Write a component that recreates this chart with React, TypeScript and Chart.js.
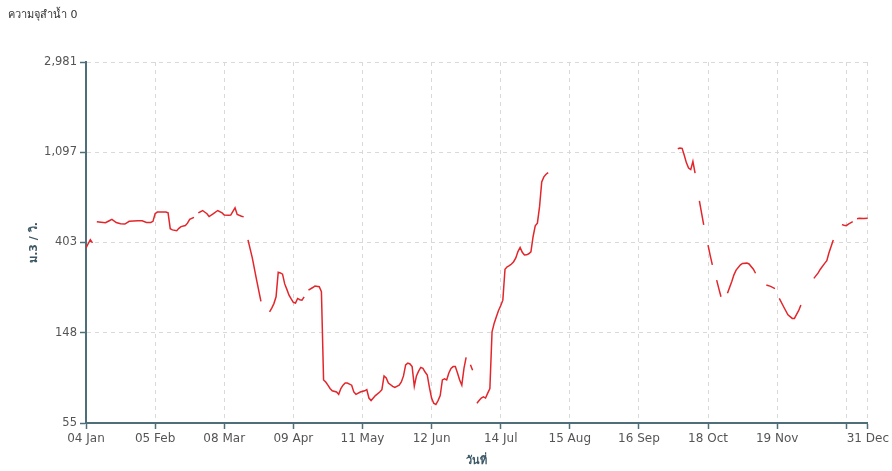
import React, { useEffect, useRef } from 'react';
import { Chart, registerables } from 'chart.js';

Chart.register(...registerables);

const chartTitle = 'ความจุสำน้ำ 0';
const yAxisTitle = 'ม.3 / วิ.';
const xAxisTitle = 'วันที่';

// day index 0 = 04 Jan (leap year), 362 = 31 Dec
const xTickDays = [0, 32, 64, 96, 128, 160, 192, 224, 256, 288, 320, 352, 362];
const xTickLabels = ['04 Jan', '05 Feb', '08 Mar', '09 Apr', '11 May', '12 Jun', '14 Jul', '15 Aug', '16 Sep', '18 Oct', '19 Nov', '', '31 Dec'];
const yTickValues = [54.598, 148.413, 403.429, 1096.633, 2980.958];

const days = [
  0, 1, 2, 3, 4,
  5, 7, 9, 11, 12, 14, 16, 18, 20, 22, 24, 26, 28, 30, 31, 32, 33, 35, 37, 38, 39, 40, 42, 43, 44, 46, 47, 48, 50, 51,
  52, 54, 56, 57, 59, 61, 63, 64, 66, 67, 69, 70, 72, 73, 74,
  75, 77, 79, 81, 82,
  85, 86, 87, 88, 89, 90, 91, 92, 93, 94, 95, 96, 97, 98, 99, 100, 101, 102,
  103, 105, 106, 108, 109, 110, 111, 112, 113, 114, 116, 117, 118, 119, 120, 121, 123, 124, 125, 127, 129, 130, 131, 132, 134, 136, 137, 138, 139, 140, 142, 143, 145, 146, 147, 148, 149, 150, 151, 152, 153, 154, 155, 156, 157, 158, 159, 160, 161, 162, 163, 164, 165, 166, 167, 168, 169, 170, 171, 172, 173, 174, 175, 176, 177,
  178, 179, 180,
  181, 182, 183, 184, 185, 186, 187, 188, 189, 190, 191, 192, 193, 194, 195, 196, 197, 198, 199, 200, 201, 202, 203, 204, 205, 206, 207, 208, 209, 210, 211, 212, 213, 214, 215,
  274, 275, 276, 277, 278, 279, 280, 281, 282, 283,
  284, 285, 286, 287,
  288, 289, 290, 291,
  292, 293, 294, 295,
  297, 299, 300, 301, 303, 304, 306, 307, 309, 310, 311,
  315, 317, 319, 320,
  321, 323, 325, 327, 328, 329, 330, 331, 332,
  337, 339, 340, 342, 343, 344, 346, 347,
  350, 351, 352, 353, 355, 356,
  357, 358, 360, 362,
];

const flow: (number | null)[] = [
  380, 398, 416, 402, null,
  508, 505, 502, 515, 521, 503, 497, 495, 510, 512, 513, 513, 504, 504, 510, 555, 565, 566, 565, 560, 470, 464, 460, 472, 481, 487, 500, 521, 533, null,
  560, 575, 555, 538, 555, 575, 560, 547, 545, 547, 592, 550, 540, 536, null,
  415, 340, 266, 210, null,
  187, 195, 205, 221, 290, 288, 284, 255, 240, 225, 216, 208, 206, 217, 214, 213, 221, null,
  238, 245, 249, 247, 234, 88, 86, 83, 80, 78, 77, 75, 80, 83, 85, 85, 83, 77, 75, 77, 78, 79, 72, 70, 74, 77, 79, 92, 90, 85, 82, 81, 83, 86, 92, 104, 106, 105, 102, 82, 92, 97, 101, 100, 96, 93, 81, 72, 68, 67, 70, 74, 88, 89, 88, 95, 100, 102, 102, 95, 88, 83, 100, 113, null,
  104, 98, null,
  68, 70, 72, 73, 72, 76, 80, 150, 165, 177, 190, 200, 213, 300, 308, 312, 318, 326, 340, 365, 382, 362, 351, 352, 356, 364, 430, 485, 500, 600, 790, 835, 860, 875, null,
  1140, 1150, 1145, 1060, 975, 920, 905, 990, 870, null,
  640, 560, 490, null,
  392, 350, 315, null,
  266, 242, 221, null,
  230, 262, 282, 297, 315, 320, 321, 318, 300, 287, null,
  252, 248, 242, null,
  217, 198, 181, 174, 174, 182, 190, 202, null,
  271, 288, 300, 320, 330, 360, 415, null,
  492, 488, 486, 495, 508, null,
  525, 528, 527, 528,
];

const AXIS = '#4e6e7a';
const GRID = '#d9d9d9';
const FONT = "'DejaVu Sans', Tahoma, Verdana, sans-serif";

const titlePlugin = {
  id: 'topLeftTitle',
  afterDraw(chart: any) {
    const ctx = chart.ctx;
    ctx.save();
    ctx.font = `11px ${FONT}`;
    ctx.fillStyle = '#333';
    ctx.textBaseline = 'middle';
    ctx.textAlign = 'left';
    ctx.fillText(chartTitle, 8, 15);
    ctx.restore();
  },
};

export default function App() {
  const ref = useRef<HTMLCanvasElement | null>(null);

  useEffect(() => {
    if (!ref.current) return;
    const points = days.map((d, i) => ({ x: d, y: flow[i] }));
    const chart = new Chart(ref.current, {
      type: 'line',
      data: {
        datasets: [
          {
            label: chartTitle,
            data: points as any,
            borderColor: '#e3262b',
            backgroundColor: '#e3262b',
            borderWidth: 1.5,
            pointRadius: 0,
            pointHoverRadius: 0,
            tension: 0,
            spanGaps: false,
          },
        ],
      },
      options: {
        animation: false,
        responsive: false,
        maintainAspectRatio: false,
        layout: { padding: { left: 8, top: 62, right: 24, bottom: 0 } },
        plugins: {
          legend: { display: false },
          tooltip: { enabled: false },
          title: { display: false },
        },
        scales: {
          x: {
            type: 'linear',
            min: 0,
            max: 362,
            afterBuildTicks: (scale: any) => {
              scale.ticks = xTickDays.map((v) => ({ value: v }));
            },
            afterFit: (scale: any) => {
              scale.height = 48;
            },
            ticks: {
              autoSkip: false,
              maxRotation: 0,
              minRotation: 0,
              padding: 3,
              color: '#555',
              font: { family: FONT, size: 12 },
              callback: (_v: any, i: number) => xTickLabels[i],
            },
            grid: {
              color: GRID,
              lineWidth: 1,
              tickColor: AXIS,
              tickLength: 6,
              tickWidth: 1.5,
            },
            border: { color: AXIS, width: 2, dash: [4, 4] },
            title: {
              display: true,
              text: xAxisTitle,
              color: '#3b5766',
              font: { family: FONT, size: 11, weight: 'bold' },
              padding: { top: 0, bottom: 3 },
            },
          },
          y: {
            type: 'logarithmic',
            min: yTickValues[0],
            max: yTickValues[yTickValues.length - 1],
            afterBuildTicks: (scale: any) => {
              scale.ticks = yTickValues.map((v) => ({ value: v }));
            },
            afterFit: (scale: any) => {
              scale.width = 78;
            },
            ticks: {
              autoSkip: false,
              padding: 3,
              color: '#555',
              font: { family: FONT, size: 11.5 },
              callback: (v: any) => Math.round(Number(v)).toLocaleString('en-US'),
            },
            grid: {
              color: GRID,
              lineWidth: 1,
              tickColor: AXIS,
              tickLength: 6,
              tickWidth: 1.5,
            },
            border: { color: AXIS, width: 2, dash: [4, 4] },
            title: {
              display: true,
              text: yAxisTitle,
              color: '#3b5766',
              font: { family: FONT, size: 11, weight: 'bold' },
              padding: { top: 20, bottom: 0 },
            },
          },
        },
      } as any,
      plugins: [titlePlugin],
    });
    return () => chart.destroy();
  }, []);

  return (
    <div style={{ position: 'fixed', left: 0, top: 0, width: 892, height: 471, overflow: 'visible' }}>
      <canvas ref={ref} width={892} height={471} style={{ display: 'block', width: 892, height: 471 }} />
    </div>
  );
}
